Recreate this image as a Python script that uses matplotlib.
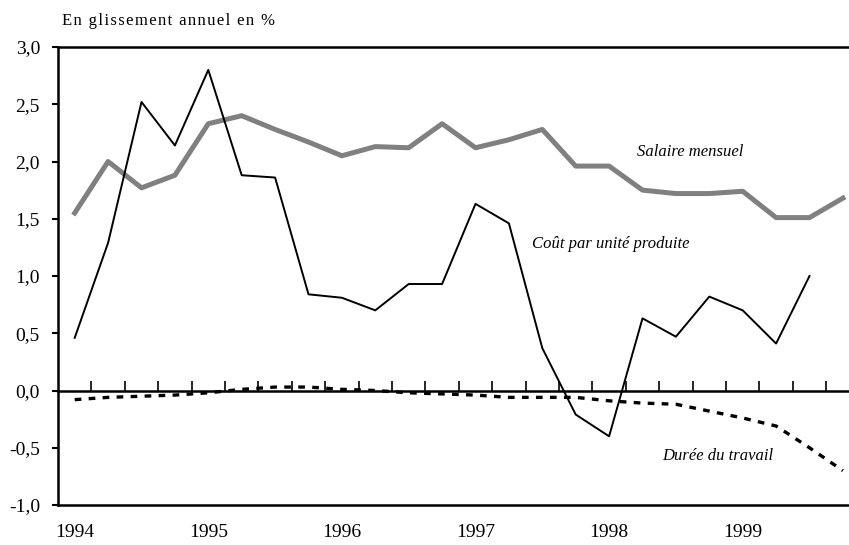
import matplotlib
matplotlib.use("Agg")
import matplotlib.pyplot as plt
import numpy as np

plt.rcParams['font.family'] = ['Liberation Serif', 'DejaVu Serif']

# quarterly series, 1994 Q1 -> 1999 Q4
years = ['1994', '1995', '1996', '1997', '1998', '1999']
salaire = [1.55, 2.00, 1.77, 1.88, 2.33, 2.40, 2.28, 2.17, 2.05, 2.13, 2.12, 2.33,
           2.12, 2.19, 2.28, 1.96, 1.96, 1.75, 1.72, 1.72, 1.74, 1.51, 1.51, 1.68]
cout = [0.46, 1.29, 2.52, 2.14, 2.80, 1.88, 1.86, 0.84, 0.81, 0.70, 0.93, 0.93,
        1.63, 1.46, 0.37, -0.21, -0.40, 0.63, 0.47, 0.82, 0.70, 0.41, 1.00]
duree = [-0.08, -0.06, -0.05, -0.04, -0.02, 0.01, 0.03, 0.03, 0.01, 0.00, -0.02, -0.03,
         -0.04, -0.06, -0.06, -0.06, -0.09, -0.11, -0.12, -0.18, -0.24, -0.31, -0.50, -0.70]

W, H = 849, 545
fig = plt.figure(figsize=(W/100, H/100), dpi=100)
ax = fig.add_axes([58/W, 40/H, 791/W, 458/H])

ax.plot(np.arange(len(salaire)), salaire, color='#808080', lw=3.6)
ax.plot(np.arange(len(cout)), cout, color='black', lw=1.4)
ax.plot(np.arange(len(duree)), duree, color='black', lw=2.4, linestyle=(0, (2, 2.2)))

yt = np.arange(-1, 3.01, 0.5)
ax.set_ylim(-1, 3)
ax.set_xlim(-0.5, -0.5 + 791/33.4)
ax.set_yticks(yt)
ax.set_yticklabels([f'{v:.1f}'.replace('.', ',') for v in yt], fontsize=14)
ax.tick_params(axis='y', direction='out', length=4, width=1.5, pad=9)

ax.set_xticks(np.arange(0, len(salaire), 4))
ax.set_xticklabels(years, fontsize=14)
ax.tick_params(axis='x', length=0, pad=14)

for s in ['left', 'top', 'bottom']:
    ax.spines[s].set_linewidth(1.8)
ax.spines['right'].set_visible(False)

# zero line with quarter ticks
sec = ax.secondary_xaxis(0.25)
sec.set_xticks(np.arange(0.5, len(salaire) - 0.5, 1))
sec.tick_params(direction='in', length=7, width=1.2, labelbottom=False)
sec.spines['bottom'].set_linewidth(1.8)

title = '\u200a'.join('En glissement annuel en %')
fig.text(62/W, 1 - 21/H, title, fontsize=12, va='center', ha='left')
for label, px, py in [('Salaire mensuel', 637, 152), ('Coût par unité produite', 532, 244),
                      ('Durée du travail', 662, 456)]:
    fig.text(px/W, 1 - py/H, label, fontsize=12, style='italic', va='center', ha='left')

plt.savefig('out.png', dpi=100)
